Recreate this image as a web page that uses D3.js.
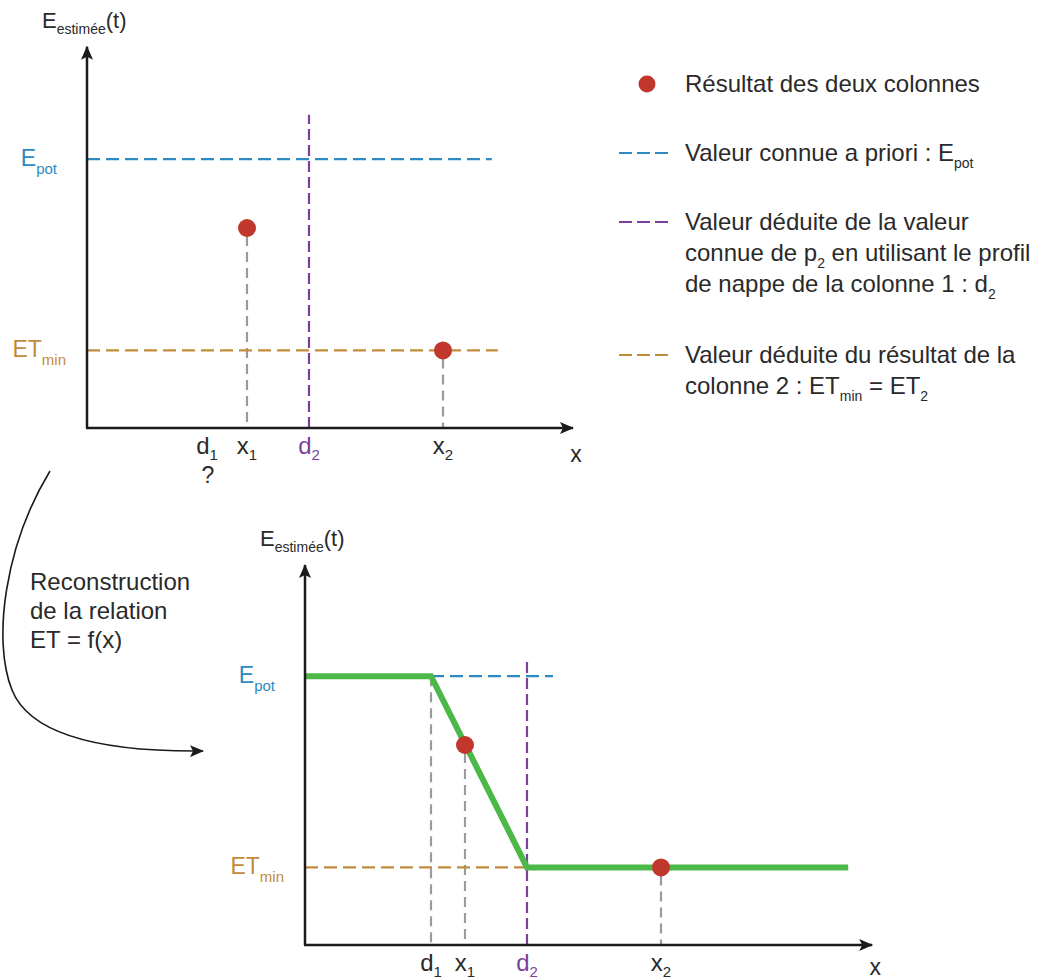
<!DOCTYPE html>
<html>
<head>
<meta charset="utf-8">
<script src="https://cdn.jsdelivr.net/npm/d3@7"></script>
<style>
	html, body { margin: 0; padding: 0; background: #fff; }
	svg { display: block; }
</style>
</head>
<body>
<svg id="chart" width="1046" height="979"></svg>
<script>

// Marker names on the x axis and their positions (arbitrary units)
const markerNames = ['d', 'x', 'd', 'x'];
const markerSubs = ['1', '1', '2', '2'];
const topMarkerX = [3.0, 4.0, 5.55, 8.9];
const bottomMarkerX = [3.15, 4.0, 5.55, 8.9];

// Levels on the y axis
const levelNames = ['E', 'ET'];
const levelSubs = ['pot', 'min'];
const levelValues = [6.72, 1.94];

// Result of the two columns: x position index and estimated value
const resultMarker = [1, 3];
const resultValues = [5.0, 1.94];

// Legend
const legendKinds = ['dot', 'Epot', 'd2', 'ETmin'];
const legendLines = [
	[['Résultat des deux colonnes']],
	[['Valeur connue a priori : E', 'pot']],
	[['Valeur déduite de la valeur'], ['connue de p', '2', ' en utilisant le profil'], ['de nappe de la colonne 1 : d', '2']],
	[['Valeur déduite du résultat de la'], ['colonne 2 : ET', 'min', ' = ET', '2']]
];

const annotationLines = ['Reconstruction', 'de la relation', 'ET = f(x)'];

const FONT = '"Liberation Sans", Arial, Helvetica, sans-serif';
const COLORS = {
	axis: '#1b1b1b',
	text: '#2a2a2a',
	Epot: '#2d89c2',
	d2: '#7d3f9c',
	ETmin: '#c28a3c',
	dot: '#c1372c',
	drop: '#9b9b9b',
	green: '#4cb848'
};
const DASH = {Epot: '13,6', ETmin: '13,6', d2: '11,5', drop: '10,6'};

const svg = d3.select('#chart').style('font-family', FONT);

const defs = svg.append('defs');
defs.append('marker')
	.attr('id', 'arrow')
	.attr('viewBox', '0 0 14 12')
	.attr('refX', 13)
	.attr('refY', 6)
	.attr('markerWidth', 14)
	.attr('markerHeight', 12)
	.attr('markerUnits', 'userSpaceOnUse')
	.attr('orient', 'auto')
	.append('path')
	.attr('d', 'M0,0 L14,6 L0,12 L3,6 Z')
	.attr('fill', COLORS.axis);

// text with alternating normal / subscript parts
function rich(g, x, y, parts, opts) {
	const t = g.append('text')
		.attr('x', x)
		.attr('y', y)
		.attr('font-size', opts.size)
		.attr('fill', opts.color || COLORS.text)
		.attr('text-anchor', opts.anchor || 'start');

	let shift = 0;
	parts.forEach((p, i) => {
		if (p === '') {
			return;
		}
		const s = i % 2 === 1 ? opts.subShift : 0;
		t.append('tspan')
			.attr('dy', s - shift)
			.attr('font-size', i % 2 === 1 ? opts.subSize : null)
			.text(p);
		shift = s;
	});

	return t;
}

function drawAxes(g, x, y, xEnd, yEnd) {
	g.append('line')
		.attr('x1', x(0)).attr('y1', y(0))
		.attr('x2', x(0)).attr('y2', y(yEnd))
		.attr('stroke', COLORS.axis)
		.attr('stroke-width', 2.5)
		.attr('marker-end', 'url(#arrow)');

	g.append('line')
		.attr('x1', x(0) - 1).attr('y1', y(0))
		.attr('x2', x(xEnd)).attr('y2', y(0))
		.attr('stroke', COLORS.axis)
		.attr('stroke-width', 2.5)
		.attr('marker-end', 'url(#arrow)');

	rich(g, x(0) - 45, y(yEnd) - 19, ['E', 'estimée', '(t)'], {size: 22, subSize: 14, subShift: 6});
	// keep the axis name inside the picture
	rich(g, x(xEnd) + 3, Math.min(y(0) + 34, 975), ['x'], {size: 23, anchor: 'middle'});
}

function drawLevelLabels(g, x, y) {
	const levelColors = [COLORS.Epot, COLORS.ETmin];
	const levelGap = [30, 21];
	levelValues.forEach((v, i) => {
		rich(g, x(0) - levelGap[i], y(v) + 7, [levelNames[i], levelSubs[i]], {
			size: 23, subSize: 15, subShift: 8, anchor: 'end', color: levelColors[i]
		});
	});
}

function drawMarkerLabels(g, x, y, positions) {
	positions.forEach((v, i) => {
		rich(g, x(v), y(0) + 26, [markerNames[i], markerSubs[i]], {
			size: 24, subSize: 15, subShift: 6, anchor: 'middle',
			color: i === 2 ? COLORS.d2 : COLORS.text
		});
	});
}

function hLine(g, x, y, x0, x1, v, kind) {
	g.append('line')
		.attr('x1', x(x0)).attr('x2', x(x1))
		.attr('y1', y(v)).attr('y2', y(v))
		.attr('stroke', COLORS[kind])
		.attr('stroke-width', 2.2)
		.attr('stroke-dasharray', DASH[kind]);
}

function vLine(g, x, y, v, y0, y1, kind) {
	g.append('line')
		.attr('x1', x(v)).attr('x2', x(v))
		.attr('y1', y(y0)).attr('y2', y(y1))
		.attr('stroke', COLORS[kind])
		.attr('stroke-width', 2.2)
		.attr('stroke-dasharray', DASH[kind]);
}

function drawResults(g, x, y, positions) {
	g.selectAll('circle.result')
		.data(resultValues)
		.join('circle')
		.attr('class', 'result')
		.attr('cx', (d, i) => x(positions[resultMarker[i]]))
		.attr('cy', d => y(d))
		.attr('r', 9)
		.attr('fill', COLORS.dot);
}

// ---------- top panel ----------
{
	const g = svg.append('g');
	const x = d3.scaleLinear().domain([0, 10]).range([87, 487]);
	const y = d3.scaleLinear().domain([0, 10]).range([428, 28]);

	resultValues.forEach((v, i) => {
		vLine(g, x, y, topMarkerX[resultMarker[i]], v - 0.2, 0, 'drop');
	});

	hLine(g, x, y, 0, 10.12, levelValues[0], 'Epot');
	hLine(g, x, y, 0, 10.27, levelValues[1], 'ETmin');
	vLine(g, x, y, topMarkerX[2], 0, 7.83, 'd2');

	drawAxes(g, x, y, 12.15, 9.53);
	drawLevelLabels(g, x, y);
	drawMarkerLabels(g, x, y, topMarkerX);
	rich(g, x(topMarkerX[0]) + 1, y(0) + 55, ['?'], {size: 23, anchor: 'middle'});
	drawResults(g, x, y, topMarkerX);
}

// ---------- bottom panel ----------
{
	const g = svg.append('g');
	const x = d3.scaleLinear().domain([0, 10]).range([305, 705]);
	const y = d3.scaleLinear().domain([0, 10]).range([945, 545]);

	vLine(g, x, y, bottomMarkerX[0], levelValues[0], 0, 'drop');
	resultValues.forEach((v, i) => {
		vLine(g, x, y, bottomMarkerX[resultMarker[i]], v - 0.2, 0, 'drop');
	});

	hLine(g, x, y, bottomMarkerX[0], 6.2, levelValues[0], 'Epot');
	hLine(g, x, y, 0, bottomMarkerX[2], levelValues[1], 'ETmin');
	vLine(g, x, y, bottomMarkerX[2], 0, 7.08, 'd2');

	const relation = [
		[0, levelValues[0]],
		[bottomMarkerX[0], levelValues[0]],
		[bottomMarkerX[2], levelValues[1]],
		[13.58, levelValues[1]]
	];

	g.append('path')
		.attr('d', d3.line().x(d => x(d[0])).y(d => y(d[1]))(relation))
		.attr('fill', 'none')
		.attr('stroke', COLORS.green)
		.attr('stroke-width', 6);

	drawAxes(g, x, y, 14.18, 9.5);
	drawLevelLabels(g, x, y);
	drawMarkerLabels(g, x, y, bottomMarkerX);
	drawResults(g, x, y, bottomMarkerX);
}

// ---------- reconstruction arrow ----------
{
	const g = svg.append('g');

	g.append('path')
		.attr('d', 'M50,471 C5,545 -8,640 12,690 C30,735 100,752 203,751')
		.attr('fill', 'none')
		.attr('stroke', COLORS.axis)
		.attr('stroke-width', 1.6)
		.attr('marker-end', 'url(#arrow)');

	annotationLines.forEach((line, i) => {
		rich(g, 30, 590 + i * 29, [line], {size: 24});
	});
}

// ---------- legend ----------
{
	const g = svg.append('g').attr('transform', 'translate(619,0)');
	const rowY = [84, 153, 222, 355];

	legendKinds.forEach((kind, i) => {
		if (kind === 'dot') {
			g.append('circle')
				.attr('cx', 28)
				.attr('cy', rowY[i])
				.attr('r', 8.5)
				.attr('fill', COLORS.dot);
		}
		else {
			g.append('line')
				.attr('x1', 0).attr('x2', 50)
				.attr('y1', rowY[i]).attr('y2', rowY[i])
				.attr('stroke', COLORS[kind])
				.attr('stroke-width', 2.2)
				.attr('stroke-dasharray', '13,5');
		}

		legendLines[i].forEach((parts, j) => {
			rich(g, 66, rowY[i] + 8 + j * 31, parts, {size: 24, subSize: 14, subShift: 7});
		});
	});
}
</script>
</body>
</html>
